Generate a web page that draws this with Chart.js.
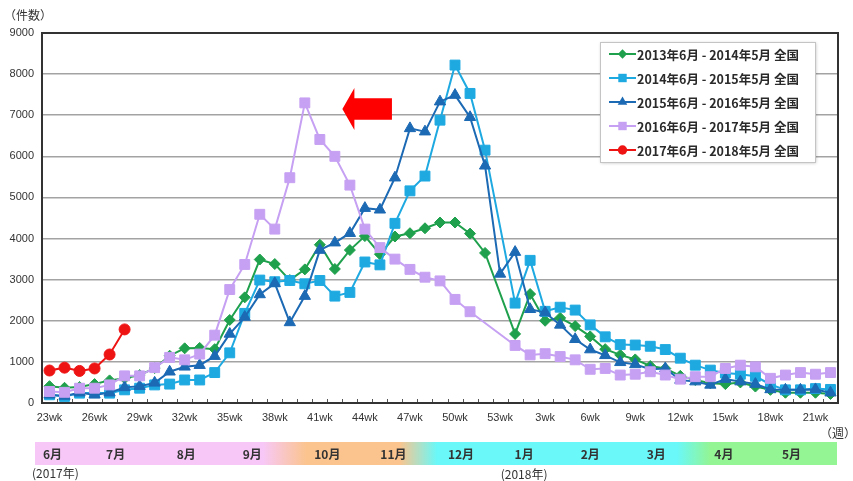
<!DOCTYPE html>
<html>
<head>
<meta charset="utf-8">
<script src="https://cdn.jsdelivr.net/npm/chart.js@4/dist/chart.umd.min.js"></script>
<style>
  html, body { margin: 0; padding: 0; background: #fff; }
  #wrap { position: relative; width: 853px; height: 481px; }
</style>
</head>
<body>
<div id="wrap"><canvas id="c" width="853" height="481"></canvas></div>
<script>
// Epidemiological weeks, June through the following May
const weeks = [
  '23wk','24wk','25wk','26wk','27wk','28wk','29wk','30wk','31wk','32wk',
  '33wk','34wk','35wk','36wk','37wk','38wk','39wk','40wk','41wk','42wk',
  '43wk','44wk','45wk','46wk','47wk','48wk','49wk','50wk','51wk','52wk',
  '53wk','1wk','2wk','3wk','4wk','5wk','6wk','7wk','8wk','9wk',
  '10wk','11wk','12wk','13wk','14wk','15wk','16wk','17wk','18wk','19wk',
  '20wk','21wk','22wk'
];

const seriesNames = [
  '2013年6月 - 2014年5月 全国',
  '2014年6月 - 2015年5月 全国',
  '2015年6月 - 2016年5月 全国',
  '2016年6月 - 2017年5月 全国',
  '2017年6月 - 2018年5月 全国'
];

// Weekly case counts per season (null = no report for that week)
const season2013 = [
  410, 370, 390, 460, 550, 600, 680, 850, 1150, 1330,
  1340, 1310, 2020, 2570, 3490, 3380, 2990, 3250, 3850, 3260,
  3720, 4060, 3620, 4050, 4130, 4250, 4390, 4390, 4120, 3650,
  null, 1680, 2650, 2000, 2070, 1870, 1620, 1310, 1170, 1060,
  900, 840, 660, 560, 480, 460, 500, 400, 320, 250,
  250, 250, 220
];
const season2014 = [
  200, 160, 240, 250, 240, 320, 360, 440, 460, 560,
  560, 740, 1220, 2180, 2990, 2950, 2980, 2900, 2980, 2600,
  2690, 3430, 3360, 4370, 5160, 5520, 6880, 8220, 7530, 6150,
  null, 2430, 3470, 2230, 2330, 2260, 1900, 1610, 1420, 1410,
  1380, 1300, 1090, 920, 800, 730, 700, 650, 450, 320,
  320, 350, 330
];
const season2015 = [
  200, 170, 250, 200, 250, 380, 410, 490, 760, 880,
  920, 1140, 1680, 2090, 2640, 2910, 1960, 2600, 3720, 3900,
  4130, 4740, 4700, 5480, 6680, 6600, 7330, 7490, 6950, 5770,
  3140, 3670, 2280, 2200, 1900, 1550, 1300, 1160, 990, 940,
  820, 840, 560, 520, 440, 580, 520, 460, 330, 320,
  320, 330, 250
];
const season2016 = [
  280, 260, 360, 360, 440, 660, 660, 860, 1110, 1050,
  1190, 1650, 2760, 3370, 4590, 4230, 5480, 7300, 6410, 6000,
  5300, 4230, 3780, 3500, 3250, 3060, 2970, 2520, 2220, null,
  null, 1400, 1170, 1200, 1130, 1050, 820, 840, 680, 700,
  760, 680, 580, 640, 640, 840, 920, 880, 600, 680,
  740, 700, 740
];
const season2017 = [790, 860, 780, 840, 1180, 1790];

const yTicks = [0, 1000, 2000, 3000, 4000, 5000, 6000, 7000, 8000, 9000];

// Month band under the axis
const monthLabels = ['6月','7月','8月','9月','10月','11月','12月','1月','2月','3月','4月','5月'];
const monthWeekPos = [0.2, 4.4, 9.1, 13.5, 18.5, 22.9, 27.4, 31.6, 36.0, 40.4, 44.9, 49.4];

const TICK_FONT = "'Liberation Sans', Arial, sans-serif";
const JP_FONT = "'Noto Sans CJK JP', 'Noto Sans', sans-serif";

const styles = [
  { color: '#1FA04C', point: 'rectRot', r: 5.5 },
  { color: '#1EA9E1', point: 'rect', r: 7 },
  { color: '#1C69B4', point: 'triangle', r: 6.5 },
  { color: '#C6A0F2', point: 'rect', r: 7 },
  { color: '#EE1414', point: 'circle', r: 5.5 }
];
const seasons = [season2013, season2014, season2015, season2016, season2017];

const datasets = seasons.map((vals, i) => ({
  label: seriesNames[i],
  data: vals,
  borderColor: styles[i].color,
  backgroundColor: styles[i].color,
  pointBackgroundColor: styles[i].color,
  pointBorderColor: styles[i].color,
  pointStyle: styles[i].point,
  pointRadius: styles[i].r,
  pointBorderWidth: 1,
  borderWidth: 2,
  tension: 0,
  spanGaps: true,
  order: 4 - i
}));

function drawMarker(ctx, style, r, x, y) {
  ctx.beginPath();
  if (style === 'circle') {
    ctx.arc(x, y, r, 0, Math.PI * 2);
  } else if (style === 'rect') {
    const s = r * Math.SQRT1_2;
    ctx.rect(x - s, y - s, 2 * s, 2 * s);
  } else if (style === 'rectRot') {
    ctx.moveTo(x, y - r); ctx.lineTo(x + r, y); ctx.lineTo(x, y + r); ctx.lineTo(x - r, y);
    ctx.closePath();
  } else if (style === 'triangle') {
    const w = r * Math.sqrt(3) / 2;
    ctx.moveTo(x, y - r); ctx.lineTo(x + w, y + r / 2); ctx.lineTo(x - w, y + r / 2);
    ctx.closePath();
  }
  ctx.fill();
}

const decorations = {
  id: 'decorations',
  beforeDatasetsDraw(chart) {
    const { ctx, chartArea: a } = chart;
    const n = weeks.length;
    const step = a.width / n;
    ctx.save();
    // small ticks between weeks on the bottom axis
    ctx.strokeStyle = '#555';
    ctx.lineWidth = 1;
    ctx.beginPath();
    for (let i = 1; i < n; i++) {
      const px = Math.round(a.left + i * step) + 0.5;
      ctx.moveTo(px, a.bottom);
      ctx.lineTo(px, a.bottom - 4);
    }
    ctx.stroke();
    // plot frame
    ctx.strokeStyle = '#333';
    ctx.lineWidth = 2;
    ctx.strokeRect(a.left, a.top, a.width, a.height);
    ctx.restore();
  },
  afterDraw(chart) {
    const { ctx, chartArea: a, scales: { x, y } } = chart;
    ctx.save();

    // red arrow pointing back toward the earlier peak
    const tipX = x.getPixelForValue(19.5), headX = x.getPixelForValue(20.3), tailX = x.getPixelForValue(22.8);
    const midY = y.getPixelForValue(7150);
    const headTop = y.getPixelForValue(7660), headBot = y.getPixelForValue(6640);
    const bodyTop = y.getPixelForValue(7410), bodyBot = y.getPixelForValue(6890);
    ctx.fillStyle = '#FF0000';
    ctx.beginPath();
    ctx.moveTo(tipX, midY);
    ctx.lineTo(headX, headTop);
    ctx.lineTo(headX, bodyTop);
    ctx.lineTo(tailX, bodyTop);
    ctx.lineTo(tailX, bodyBot);
    ctx.lineTo(headX, bodyBot);
    ctx.lineTo(headX, headBot);
    ctx.closePath();
    ctx.fill();

    // legend box
    const lx = 600, ly = 42, lw = 215, lh = 120;
    ctx.save();
    ctx.shadowColor = 'rgba(0,0,0,0.25)';
    ctx.shadowBlur = 3;
    ctx.shadowOffsetX = 1;
    ctx.shadowOffsetY = 1;
    ctx.fillStyle = '#fff';
    ctx.fillRect(lx, ly, lw, lh);
    ctx.restore();
    ctx.strokeStyle = '#c4c4c4';
    ctx.lineWidth = 1;
    ctx.strokeRect(lx + 0.5, ly + 0.5, lw, lh);
    ctx.font = 'bold 12.5px ' + JP_FONT;
    ctx.textBaseline = 'middle';
    ctx.textAlign = 'left';
    chart.data.datasets.forEach((ds, k) => {
      const cy = ly + 12 + 24 * k;
      ctx.strokeStyle = ds.borderColor;
      ctx.lineWidth = 2;
      ctx.beginPath();
      ctx.moveTo(lx + 9, cy);
      ctx.lineTo(lx + 36, cy);
      ctx.stroke();
      ctx.fillStyle = ds.borderColor;
      drawMarker(ctx, ds.pointStyle, ds.pointRadius * 0.85, lx + 22.5, cy);
      ctx.fillStyle = '#2a2a2a';
      ctx.fillText(ds.label, lx + 37, cy + 1);
    });

    // month band
    const bx0 = a.left - 7, bx1 = a.right - 1;
    const by0 = a.bottom + 39, by1 = a.bottom + 62;
    const frac = (w) => (x.getPixelForValue(w) - bx0) / (bx1 - bx0);
    const g = ctx.createLinearGradient(bx0, 0, bx1, 0);
    g.addColorStop(0, '#F7C8F7');
    g.addColorStop(frac(14.2), '#F7C8F7');
    g.addColorStop(frac(17.1), '#FBC48E');
    g.addColorStop(frac(23.3), '#FBC48E');
    g.addColorStop(frac(25.8), '#6AF8F8');
    g.addColorStop(frac(41.8), '#6AF8F8');
    g.addColorStop(frac(44.0), '#93F593');
    g.addColorStop(1, '#93F593');
    ctx.fillStyle = g;
    ctx.fillRect(bx0, by0, bx1 - bx0, by1 - by0);

    ctx.fillStyle = '#333';
    ctx.font = 'bold 12px ' + JP_FONT;
    ctx.textAlign = 'center';
    ctx.textBaseline = 'middle';
    monthLabels.forEach((m, i) => {
      ctx.fillText(m, x.getPixelForValue(monthWeekPos[i]), (by0 + by1) / 2 + 1);
    });

    // unit captions and year markers
    ctx.font = '12px ' + JP_FONT;
    ctx.fillStyle = '#333';
    ctx.textAlign = 'left';
    ctx.fillText('（件数）', 4, 15);
    ctx.textAlign = 'right';
    ctx.fillText('（週）', 856, a.bottom + 30);
    ctx.textAlign = 'left';
    ctx.fillText('(2017年)', bx0 - 3, by1 + 8);
    ctx.textAlign = 'center';
    ctx.fillText('(2018年)', x.getPixelForValue(31.6), by1 + 9);
    ctx.restore();
  }
};

new Chart(document.getElementById('c'), {
  type: 'line',
  data: { labels: weeks, datasets },
  options: {
    responsive: false,
    devicePixelRatio: 1,
    animation: false,
    layout: { padding: { left: 0, top: 33, right: 15, bottom: 53 } },
    plugins: { legend: { display: false }, tooltip: { enabled: false } },
    scales: {
      x: {
        type: 'category',
        offset: true,
        afterFit(scale) { scale.height = 25; },
        grid: { display: false, drawTicks: false },
        border: { display: true, color: '#333', width: 2 },
        ticks: {
          autoSkip: false,
          maxRotation: 0,
          padding: 8,
          color: '#333',
          font: { family: TICK_FONT, size: 11 },
          callback(val, idx) { return idx % 3 === 0 ? weeks[idx] : ''; }
        }
      },
      y: {
        min: 0,
        max: 9000,
        afterFit(scale) { scale.width = 42; },
        afterBuildTicks(scale) { scale.ticks = yTicks.map(v => ({ value: v })); },
        grid: { color: '#a3a3a3', lineWidth: 1.5, drawTicks: false },
        border: { display: true, color: '#333', width: 2 },
        ticks: {
          padding: 8,
          color: '#333',
          font: { family: TICK_FONT, size: 11 },
          callback(v) { return String(v); }
        }
      }
    }
  },
  plugins: [decorations]
});
</script>
</body>
</html>
